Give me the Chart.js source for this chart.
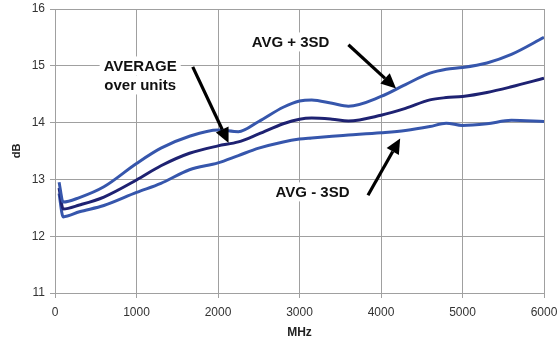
<!DOCTYPE html>
<html lang="en">
  <head>
    <meta charset="UTF-8" />
    <title>dB vs MHz</title>
    <script src="https://cdn.jsdelivr.net/npm/chart.js"></script>
    <style>
      body { margin: 0; background: #fff; }
      #box { width: 560px; height: 344px; }
    </style>
  </head>
  <body>
    <div id="box"><canvas id="grafico"></canvas></div>

<script>
  // frequencias (MHz) e valores
  const freq = [50, 100, 300, 600, 1000, 1300, 1650, 2000, 2250, 2500, 2800, 3000, 3150, 3400, 3600, 4000, 4300, 4600, 4800, 5000, 5300, 5600, 6000];
  const avgMais3sd = [12.95, 12.6, 12.68, 12.87, 13.28, 13.55, 13.76, 13.87, 13.84, 14.02, 14.27, 14.38, 14.4, 14.34, 14.29, 14.46, 14.67, 14.87, 14.94, 14.97, 15.05, 15.2, 15.5];
  const media = [12.85, 12.48, 12.55, 12.69, 12.99, 13.24, 13.46, 13.59, 13.66, 13.8, 13.98, 14.06, 14.08, 14.06, 14.03, 14.13, 14.25, 14.4, 14.44, 14.46, 14.53, 14.63, 14.78];
  const avgMenos3sd = [12.75, 12.34, 12.43, 12.54, 12.77, 12.93, 13.17, 13.29, 13.42, 13.55, 13.66, 13.71, 13.73, 13.76, 13.78, 13.82, 13.86, 13.93, 13.99, 13.95, 13.98, 14.04, 14.02];
  const xTicks = [0, 1000, 2000, 3000, 4000, 5000, 6000];
  const yTicks = [11, 12, 13, 14, 15, 16];

  const fonte = "'Liberation Sans', Arial, sans-serif";

  // textos e setas (em coordenadas do grafico)
  const notas = [
    { linhas: ["AVERAGE", "over units"], x: 1045, y: 14.83, seta: [1690, 14.98, 2130, 13.64] },
    { linhas: ["AVG + 3SD"], x: 2890, y: 15.42, seta: [3600, 15.37, 4185, 14.6] },
    { linhas: ["AVG - 3SD"], x: 3160, y: 12.78, seta: [3840, 12.72, 4235, 13.72] },
  ];

  function pontos(valores) {
    return freq.map(function (f, i) { return { x: f, y: valores[i] }; });
  }

  function desenhaSeta(ctx, x1, y1, x2, y2) {
    const ang = Math.atan2(y2 - y1, x2 - x1);
    const tam = 15;
    const larg = 7;
    const bx = x2 - tam * Math.cos(ang);
    const by = y2 - tam * Math.sin(ang);
    ctx.strokeStyle = "#000";
    ctx.lineWidth = 3.2;
    ctx.beginPath();
    ctx.moveTo(x1, y1);
    ctx.lineTo(bx, by);
    ctx.stroke();
    ctx.fillStyle = "#000";
    ctx.beginPath();
    ctx.moveTo(x2, y2);
    ctx.lineTo(bx + larg * Math.sin(ang), by - larg * Math.cos(ang));
    ctx.lineTo(bx - larg * Math.sin(ang), by + larg * Math.cos(ang));
    ctx.closePath();
    ctx.fill();
  }

  const pluginNotas = {
    id: "notas",
    afterDatasetsDraw(chart) {
      const ctx = chart.ctx;
      const sx = chart.scales.x;
      const sy = chart.scales.y;
      ctx.save();
      ctx.font = "bold 15px " + fonte;
      ctx.textAlign = "center";
      ctx.textBaseline = "middle";
      notas.forEach(function (n) {
        const cx = sx.getPixelForValue(n.x);
        const cy = sy.getPixelForValue(n.y);
        const alt = 19;
        const topo = cy - (n.linhas.length * alt) / 2;
        n.linhas.forEach(function (t, i) {
          const w = ctx.measureText(t).width;
          const ly = topo + alt * i + alt / 2;
          ctx.fillStyle = "#fff";
          ctx.fillRect(cx - w / 2 - 4, ly - alt / 2, w + 8, alt);
        });
        n.linhas.forEach(function (t, i) {
          ctx.fillStyle = "#111";
          ctx.fillText(t, cx, topo + alt * i + alt / 2 + 1);
        });
        desenhaSeta(ctx,
          sx.getPixelForValue(n.seta[0]), sy.getPixelForValue(n.seta[1]),
          sx.getPixelForValue(n.seta[2]), sy.getPixelForValue(n.seta[3]));
      });
      ctx.restore();
    },
  };

  const azul = "#3656ac";
  const azulEscuro = "#1e2272";

  const config = {
    type: "line",
    data: {
      datasets: [
        { label: "AVG + 3SD", data: pontos(avgMais3sd), borderColor: azul },
        { label: "AVERAGE", data: pontos(media), borderColor: azulEscuro },
        { label: "AVG - 3SD", data: pontos(avgMenos3sd), borderColor: azul },
      ],
    },
    options: {
      responsive: true,
      maintainAspectRatio: false,
      animation: false,
      layout: { padding: { top: 9, right: 16, left: 0, bottom: 0 } },
      elements: {
        line: { borderWidth: 3, cubicInterpolationMode: "monotone", fill: false },
        point: { radius: 0 },
      },
      plugins: { legend: { display: false }, tooltip: { enabled: false } },
      scales: {
        x: {
          type: "linear",
          min: 0,
          max: 6000,
          afterBuildTicks: function (axis) { axis.ticks = xTicks.map(function (v) { return { value: v }; }); },
          afterFit: function (axis) {
            axis.height = 51;
            axis.paddingLeft = 0;
            axis.paddingRight = 0;
          },
          ticks: { color: "#333", padding: 7, maxRotation: 0, font: { family: fonte, size: 12 },
            callback: function (v) { return String(v); } },
          grid: { color: "#a0a0a0", tickLength: 5 },
          border: { color: "#a0a0a0" },
          title: { display: true, text: "MHz", color: "#222", padding: { top: 0, bottom: 4 }, font: { family: fonte, size: 12, weight: "bold" } },
        },
        y: {
          min: 11,
          max: 16,
          afterBuildTicks: function (axis) { axis.ticks = yTicks.map(function (v) { return { value: v }; }); },
          afterFit: function (axis) {
            axis.width = 55;
            axis.paddingTop = 0;
            axis.paddingBottom = 0;
          },
          ticks: { color: "#333", padding: 5, font: { family: fonte, size: 12 },
            callback: function (v) { return String(v); } },
          grid: { color: "#a0a0a0", tickLength: 5 },
          border: { color: "#a0a0a0" },
          title: { display: true, text: "dB", color: "#222", padding: { top: 10, bottom: 0 }, font: { family: fonte, size: 11, weight: "bold" } },
        },
      },
    },
    plugins: [pluginNotas],
  };

  new Chart(document.getElementById("grafico"), config);
</script>
  </body>
</html>
